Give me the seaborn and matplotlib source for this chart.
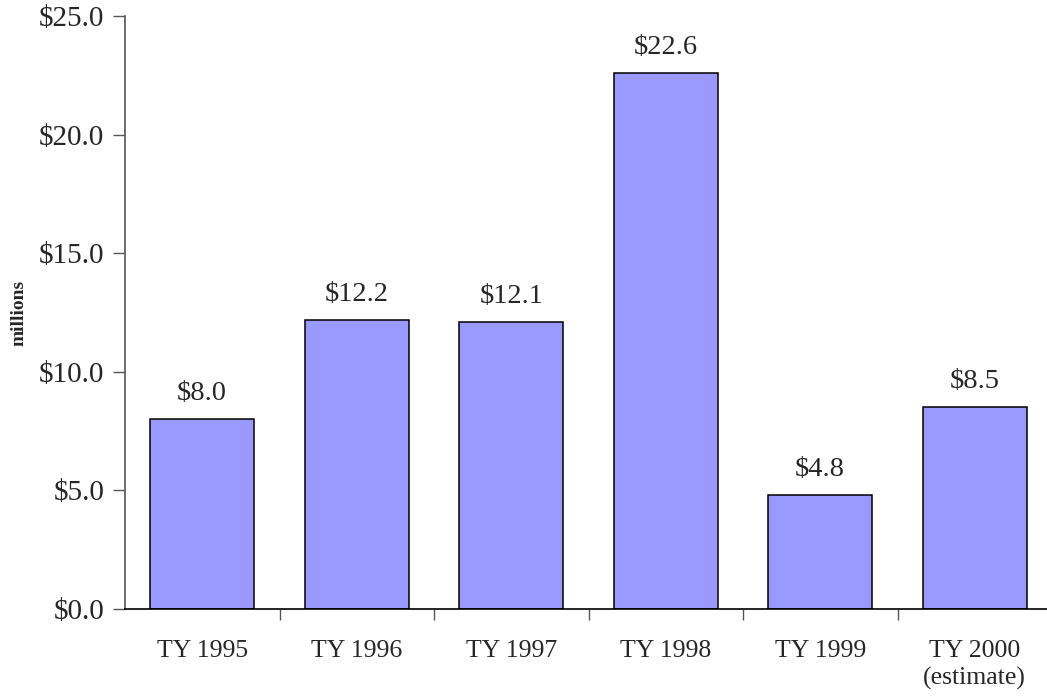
import numpy as np
import pandas as pd
import matplotlib
matplotlib.use("Agg")
import matplotlib.pyplot as plt
import seaborn as sns

# values (millions of dollars)
years = ["TY 1995", "TY 1996", "TY 1997", "TY 1998", "TY 1999", "TY 2000\n(estimate)"]
amounts = [8.0, 12.2, 12.1, 22.6, 4.8, 8.5]
yticks = [0, 5, 10, 15, 20, 25]

df = pd.DataFrame({"year": years, "amount": amounts})

sns.set_style("white")
plt.rcParams["font.family"] = ["Liberation Serif", "DejaVu Serif"]

fig = plt.figure(figsize=(10.47, 6.96), dpi=100)
ax = fig.add_axes([125 / 1047, 87 / 696, 927 / 1047, 593 / 696])

sns.barplot(data=df, x="year", y="amount", color="#9999FF", saturation=1,
            edgecolor="black", linewidth=1.1, width=0.67, ax=ax)

# value labels above bars
for i, v in enumerate(amounts):
    ax.text(i, v + 0.55, "$%.1f" % v, ha="center", va="bottom", fontsize=20.5)

ax.set_ylim(0, 25)
ax.set_xlim(-0.5, len(years) - 0.5)
ax.set_yticks(yticks)
ax.set_yticklabels(["$%.1f" % t for t in yticks], fontsize=21)
ax.tick_params(axis="y", direction="out", length=9, width=1, color="#555555", pad=6, left=True)

# category labels at centres, ticks between categories
ax.set_xticks(range(len(years)))
ax.set_xticklabels(years, fontsize=18.5, linespacing=1.3)
ax.tick_params(axis="x", which="major", length=0, pad=22)
ax.set_xticks(np.arange(len(years)) + 0.5, minor=True)
ax.tick_params(axis="x", which="minor", direction="out", length=8, width=1,
               color="#555555", bottom=True)

ax.set_xlabel("")
ax.set_ylabel("millions", fontsize=14, fontweight="bold", labelpad=8)

for s in ["top", "right"]:
    ax.spines[s].set_visible(False)
ax.spines["left"].set_color("#555555")
ax.spines["bottom"].set_color("black")
ax.spines["left"].set_linewidth(1.2)
ax.spines["bottom"].set_linewidth(1.2)

fig.savefig("out.png", dpi=100)
